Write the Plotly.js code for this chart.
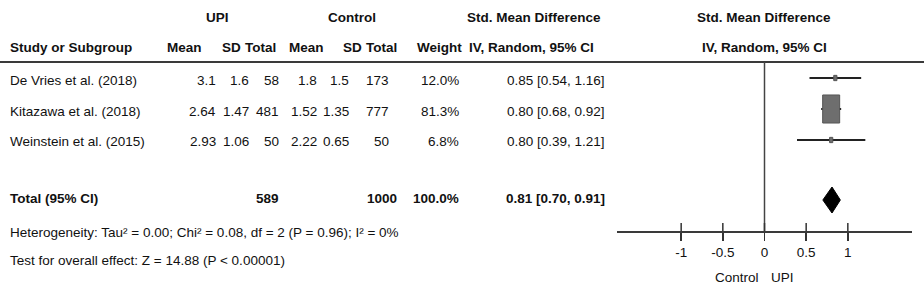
<!DOCTYPE html>
<html>
<head>
<meta charset="utf-8">
<script src="https://cdn.plot.ly/plotly-3.0.1.min.js"></script>
<style>html,body{margin:0;padding:0;background:#fff;}#chart{width:924px;height:288px;}</style>
</head>
<body>
<div id="chart"></div>
<script>
// ---- data ----
const studies = ["De Vries et al. (2018)", "Kitazawa et al. (2018)", "Weinstein et al. (2015)"];
const upiMean = [3.1, 2.64, 2.93];
const upiSD = [1.6, 1.47, 1.06];
const upiN = [58, 481, 50];
const ctrlMean = [1.8, 1.52, 2.22];
const ctrlSD = [1.5, 1.35, 0.65];
const ctrlN = [173, 777, 50];
const weight = [12.0, 81.3, 6.8];
const smd = [0.85, 0.80, 0.80];
const ciLow = [0.54, 0.68, 0.39];
const ciHigh = [1.16, 0.92, 1.21];
const totalSMD = [0.81];
const totalLow = [0.70];
const totalHigh = [0.91];
const totalWeight = [100.0];
const tickVals = [-1, -0.5, 0, 0.5, 1];
const tickText = ["-1", "-0.5", "0", "0.5", "1"];
const heterogeneity = "Heterogeneity: Tau² = 0.00; Chi² = 0.08, df = 2 (P = 0.96); I² = 0%";
const overallTest = "Test for overall effect: Z = 14.88 (P &lt; 0.00001)";

// ---- layout constants ----
const W = 924, H = 288;
const axL = 617, axR = 912, xMin = -1.77, xMax = 1.77;
const pxPerUnit = (axR - axL) / (xMax - xMin);
const markY = [78, 109, 140];
const textY = [80, 111, 141];
const totalMarkY = 200, totalTextY = 198;
const axisY = 231, headerLineY = 62;
const FONT = "'Liberation Sans', Arial, sans-serif";
const TXT = '#111';
const FS = 13.5;

const annotations = [];
function ann(text, xpx, ypx, anchor, opts) {
  annotations.push(Object.assign({
    text: text, x: xpx / W, xref: 'paper', y: ypx, yref: 'y',
    xanchor: anchor, yanchor: 'middle', showarrow: false,
    font: {family: FONT, size: FS, color: TXT}, borderpad: 0
  }, opts || {}));
}
// headers
ann('<b>UPI</b>', 217, 17, 'center');
ann('<b>Control</b>', 352, 17, 'center');
ann('<b>Std. Mean Difference</b>', 534, 17, 'center');
ann('<b>Std. Mean Difference</b>', 764, 17, 'center');
ann('<b>Study or Subgroup</b>', 9, 47, 'left');
const hdrs = [['Mean', 203], ['SD', 242], ['Total', 277], ['Mean', 325], ['SD', 363], ['Total', 398], ['Weight', 463]];
hdrs.forEach(h => ann('<b>' + h[0] + '</b>', h[1], 47, 'right'));
ann('<b>IV, Random, 95% CI</b>', 531, 47, 'center');
ann('<b>IV, Random, 95% CI</b>', 764, 47, 'center');

// study rows
const colR = [217, 250, 280, 318, 350, 390, 460];
studies.forEach((s, i) => {
  const y = textY[i];
  ann(s, 9, y, 'left');
  const vals = [String(upiMean[i]), String(upiSD[i]), String(upiN[i]), String(ctrlMean[i]), String(ctrlSD[i]), String(ctrlN[i]), weight[i].toFixed(1) + '%'];
  vals.forEach((v, j) => ann(v, colR[j], y, 'right'));
  ann(smd[i].toFixed(2) + ' [' + ciLow[i].toFixed(2) + ', ' + ciHigh[i].toFixed(2) + ']', 606, y, 'right');
});
// total row
const sumUpi = upiN.reduce((a, b) => a + b, 0);
const sumCtrl = ctrlN.reduce((a, b) => a + b, 0);
ann('<b>Total (95% CI)</b>', 9, totalTextY, 'left');
ann('<b>' + sumUpi + '</b>', 280, totalTextY, 'right');
ann('<b>' + sumCtrl + '</b>', 398, totalTextY, 'right');
ann('<b>' + totalWeight[0].toFixed(1) + '%</b>', 460, totalTextY, 'right');
ann('<b>' + totalSMD[0].toFixed(2) + ' [' + totalLow[0].toFixed(2) + ', ' + totalHigh[0].toFixed(2) + ']</b>', 606, totalTextY, 'right');
ann(heterogeneity, 9, 232, 'left');
ann(overallTest, 9, 260, 'left');
// favours labels
ann('Control', 760, 277, 'right');
ann('UPI', 770, 277, 'left');

// ---- traces ----
const ciX = [], ciYs = [];
studies.forEach((s, i) => { ciX.push(ciLow[i], ciHigh[i], null); ciYs.push(markY[i], markY[i], null); });
const ciTrace = {x: ciX, y: ciYs, mode: 'lines', line: {color: '#222', width: 2}, hoverinfo: 'skip', showlegend: false};

const boxTraces = studies.map((s, i) => {
  const hw = Math.max(1.6, 8.5 * weight[i] / 81.3);
  const hh = hw * 1.65;
  const dx = hw / pxPerUnit;
  return {
    x: [smd[i] - dx, smd[i] + dx, smd[i] + dx, smd[i] - dx, smd[i] - dx],
    y: [markY[i] - hh, markY[i] - hh, markY[i] + hh, markY[i] + hh, markY[i] - hh],
    mode: 'lines', fill: 'toself', fillcolor: '#6e6e6e',
    line: {color: '#555', width: 1}, hoverinfo: 'skip', showlegend: false
  };
});
const diamond = {
  x: [totalLow[0], totalSMD[0], totalHigh[0], totalSMD[0], totalLow[0]],
  y: [totalMarkY, totalMarkY - 13, totalMarkY, totalMarkY + 13, totalMarkY],
  mode: 'lines', fill: 'toself', fillcolor: '#000', line: {color: '#000', width: 1},
  hoverinfo: 'skip', showlegend: false
};

// ---- shapes ----
const shapes = [
  {type: 'line', xref: 'paper', x0: 0, x1: 1, yref: 'y', y0: headerLineY, y1: headerLineY, line: {color: '#3a3a3a', width: 2}},
  {type: 'line', xref: 'x', x0: 0, x1: 0, yref: 'y', y0: headerLineY, y1: axisY, line: {color: '#444', width: 1.5}}
];
tickVals.forEach(v => shapes.push({type: 'line', xref: 'x', x0: v, x1: v, yref: 'y', y0: axisY - 8, y1: axisY, line: {color: '#333', width: 1.5}}));

const layout = {
  width: W, height: H, margin: {l: 0, r: 0, t: 0, b: 0},
  paper_bgcolor: '#fff', plot_bgcolor: 'rgba(0,0,0,0)',
  showlegend: false,
  xaxis: {
    domain: [axL / W, axR / W], range: [xMin, xMax], anchor: 'free', position: 1 - axisY / H,
    showline: true, linecolor: '#3a3a3a', linewidth: 1.5,
    ticks: 'outside', ticklen: 8, tickwidth: 1.5, tickcolor: '#333',
    tickvals: tickVals, ticktext: tickText, ticklabelstandoff: 0,
    tickfont: {family: FONT, size: FS, color: TXT},
    showgrid: false, zeroline: false, fixedrange: true
  },
  yaxis: {domain: [0, 1], range: [H, 0], visible: false, fixedrange: true},
  shapes: shapes,
  annotations: annotations
};

Plotly.newPlot('chart', [ciTrace].concat(boxTraces, [diamond]), layout, {displayModeBar: false, staticPlot: true});
</script>
</body>
</html>
